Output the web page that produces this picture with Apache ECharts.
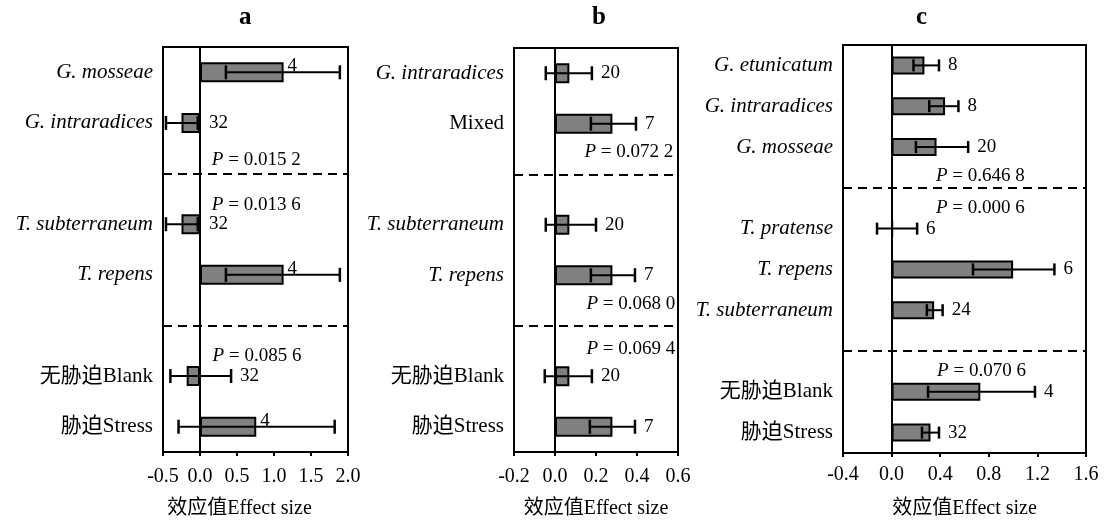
<!DOCTYPE html>
<html>
<head>
<meta charset="utf-8">
<script src="https://cdn.jsdelivr.net/npm/echarts@6/dist/echarts.min.js"></script>
<style>
html, body { margin: 0; padding: 0; background: #fff; }
#main { width: 1107px; height: 520px; }
</style>
</head>
<body>
<div id="main"></div>
<script>
// ---- panel a ----
var catsA = ['G. mosseae', 'G. intraradices', '', 'T. subterraneum', 'T. repens', '', '无胁迫Blank', '胁迫Stress'];
var meanA = [1.13, -0.25, null, -0.25, 1.13, null, -0.18, 0.76];
var lowA  = [0.35, -0.46, null, -0.46, 0.35, null, -0.40, -0.29];
var highA = [1.89, -0.03, null, -0.03, 1.89, null, 0.42, 1.82];
var nA    = [4, 32, null, 32, 4, null, 32, 4];
var dashA = [2, 5];
var pTextA = ['0.015 2', '0.013 6', '0.085 6'];
var pSlotA = [2, 2, 5];
var pSideA = ['above', 'below', 'below'];
var pXA    = [0.76, 0.76, 0.77];

// ---- panel b ----
var catsB = ['G. intraradices', 'Mixed', '', 'T. subterraneum', 'T. repens', '', '无胁迫Blank', '胁迫Stress'];
var meanB = [0.07, 0.28, null, 0.07, 0.28, null, 0.07, 0.28];
var lowB  = [-0.045, 0.175, null, -0.045, 0.175, null, -0.05, 0.17];
var highB = [0.18, 0.395, null, 0.20, 0.39, null, 0.18, 0.39];
var nB    = [20, 7, null, 20, 7, null, 20, 7];
var dashB = [2, 5];
var pTextB = ['0.072 2', '0.068 0', '0.069 4'];
var pSlotB = [2, 5, 5];
var pSideB = ['above', 'above', 'below'];
var pXB    = [0.36, 0.37, 0.37];

// ---- panel c ----
var catsC = ['G. etunicatum', 'G. intraradices', 'G. mosseae', '', 'T. pratense', 'T. repens', 'T. subterraneum', '', '无胁迫Blank', '胁迫Stress'];
var meanC = [0.27, 0.44, 0.37, null, 0.01, 1.0, 0.35, null, 0.73, 0.32];
var lowC  = [0.18, 0.31, 0.20, null, -0.12, 0.67, 0.29, null, 0.30, 0.25];
var highC = [0.39, 0.55, 0.63, null, 0.21, 1.34, 0.42, null, 1.18, 0.39];
var nC    = [8, 8, 20, null, 6, 6, 24, null, 4, 32];
var dashC = [3, 7];
var pTextC = ['0.646 8', '0.000 6', '0.070 6'];
var pSlotC = [3, 3, 7];
var pSideC = ['above', 'below', 'below'];
var pXC    = [0.73, 0.73, 0.74];

var panelLetters = ['a', 'b', 'c'];
var axisName = '效应值Effect size';

var SERIF = "'Liberation Serif', 'Noto Sans CJK SC', serif";

var panels = [
    { cats: catsA, mean: meanA, low: lowA, high: highA, n: nA, dash: dashA,
      pText: pTextA, pSlot: pSlotA, pSide: pSideA, pX: pXA,
      min: -0.5, max: 2.0, step: 0.5,
      grid: { left: 163, right: 759, top: 47, bottom: 68 },
      barW: 20, cap: 7, pAbove: 14, pBelow: 31, labelOnBar: true, nameShift: 32, titleX: 245,
      labelMargin: 15, nameGap: 47 },
    { cats: catsB, mean: meanB, low: lowB, high: highB, n: nB, dash: dashB,
      pText: pTextB, pSlot: pSlotB, pSide: pSideB, pX: pXB,
      min: -0.2, max: 0.6, step: 0.2,
      grid: { left: 514, right: 429, top: 48, bottom: 68 },
      barW: 20, cap: 7, pAbove: 22, pBelow: 23, labelOnBar: false, nameShift: 0, titleX: 598,
      labelMargin: 15, nameGap: 47 },
    { cats: catsC, mean: meanC, low: lowC, high: highC, n: nC, dash: dashC,
      pText: pTextC, pSlot: pSlotC, pSide: pSideC, pX: pXC,
      min: -0.4, max: 1.6, step: 0.4,
      grid: { left: 843, right: 21, top: 45, bottom: 67 },
      barW: 18, cap: 6, pAbove: 12, pBelow: 20, labelOnBar: false, nameShift: 0, titleX: 922,
      labelMargin: 12, nameGap: 46 }
];

var grids = [], xAxes = [], yAxes = [], series = [], graphics = [];

panels.forEach(function (p, k) {
    grids.push({
        left: p.grid.left, right: p.grid.right, top: p.grid.top, bottom: p.grid.bottom,
        outerBoundsMode: 'none',
        show: true, borderColor: '#000', borderWidth: 2, backgroundColor: 'transparent'
    });
    xAxes.push({
        gridIndex: k, type: 'value', min: p.min, max: p.max, interval: p.step,
        splitLine: { show: false },
        axisLine: { show: true, lineStyle: { color: '#000', width: 2 } },
        axisTick: { show: true, length: 4, lineStyle: { color: '#000', width: 2 } },
        axisLabel: {
            color: '#000', fontSize: 20, fontFamily: SERIF, margin: p.labelMargin,
            formatter: function (v) { return v.toFixed(1); }
        },
        name: axisName, nameLocation: 'middle', nameGap: p.nameGap,
        nameTextStyle: { color: '#000', fontSize: 20, fontFamily: SERIF, padding: [0, p.nameShift, 0, 0] }
    });
    yAxes.push({
        gridIndex: k, type: 'category', inverse: true, data: p.cats,
        axisLine: { show: false }, axisTick: { show: false }, splitLine: { show: false },
        axisLabel: {
            margin: 10,
            formatter: function (v) {
                if (!v) return '';
                return /^[A-Z]\. /.test(v) ? '{i|' + v + '}' : '{n|' + v + '}';
            },
            rich: {
                i: { fontSize: 21, fontFamily: SERIF, fontStyle: 'italic', color: '#000' },
                n: { fontSize: 21, fontFamily: SERIF, color: '#000' }
            }
        }
    });

    var markData = [{ xAxis: 0, lineStyle: { type: 'solid', width: 2, color: '#000' } }];
    p.dash.forEach(function (s) {
        markData.push({ yAxis: s, lineStyle: { type: [9, 6], width: 2, color: '#000' } });
    });

    series.push({
        type: 'bar', xAxisIndex: k, yAxisIndex: k,
        data: p.mean.map(function (v) { return v == null ? '-' : v; }),
        barWidth: p.barW,
        itemStyle: { color: '#808080', borderColor: '#000', borderWidth: 2 },
        silent: true,
        markLine: { silent: true, symbol: 'none', label: { show: false }, data: markData }
    });

    var errData = [];
    p.mean.forEach(function (v, i) {
        if (v != null) errData.push([i, p.low[i], p.high[i], p.n[i], v]);
    });

    series.push({
        type: 'custom', xAxisIndex: k, yAxisIndex: k, silent: true, z: 5,
        encode: { x: [1, 2], y: 0 },
        data: errData,
        renderItem: function (params, api) {
            var cat = api.value(0);
            var lo = api.coord([api.value(1), cat]);
            var hi = api.coord([api.value(2), cat]);
            var mean = api.value(4);
            var c = p.cap;
            var onBar = p.labelOnBar && mean > 0.5;
            var anchor = onBar ? api.coord([mean, cat]) : api.coord([Math.max(api.value(2), 0), cat]);
            return {
                type: 'group',
                children: [
                    { type: 'line', shape: { x1: lo[0], y1: lo[1], x2: hi[0], y2: hi[1] },
                      style: { stroke: '#000', lineWidth: 2 } },
                    { type: 'line', shape: { x1: lo[0], y1: lo[1] - c, x2: lo[0], y2: lo[1] + c },
                      style: { stroke: '#000', lineWidth: 2.5 } },
                    { type: 'line', shape: { x1: hi[0], y1: hi[1] - c, x2: hi[0], y2: hi[1] + c },
                      style: { stroke: '#000', lineWidth: 2.5 } },
                    { type: 'text', x: anchor[0] + (onBar ? 4 : 9), y: anchor[1] + (onBar ? -6 : 0),
                      style: { text: String(api.value(3)), fontSize: 19, fontFamily: SERIF, fill: '#000',
                               align: 'left', verticalAlign: 'middle' } }
                ]
            };
        }
    });

    series.push({
        type: 'custom', xAxisIndex: k, yAxisIndex: k, silent: true, z: 5,
        encode: { x: 0, y: 1 },
        data: p.pX.map(function (x, j) { return [x, p.pSlot[j]]; }),
        renderItem: function (params, api) {
            var j = params.dataIndex;
            var pt = api.coord([api.value(0), api.value(1)]);
            var dy = p.pSide[j] === 'above' ? -p.pAbove : p.pBelow;
            return {
                type: 'text', x: pt[0], y: pt[1] + dy,
                style: {
                    text: '{i|P}{n| = ' + p.pText[j] + '}',
                    align: 'center', verticalAlign: 'middle',
                    rich: {
                        i: { fontSize: 19, fontFamily: SERIF, fontStyle: 'italic', fill: '#000' },
                        n: { fontSize: 19, fontFamily: SERIF, fill: '#000' }
                    }
                }
            };
        }
    });

    graphics.push({
        type: 'text', left: p.titleX - 6, top: 5,
        style: { text: panelLetters[k], fontSize: 25, fontWeight: 'bold', fontFamily: SERIF, fill: '#000' }
    });
});

var myChart = echarts.init(document.getElementById('main'));
var option = {
    animation: false,
    backgroundColor: '#fff',
    grid: grids,
    xAxis: xAxes,
    yAxis: yAxes,
    series: series,
    graphic: graphics
};
myChart.setOption(option);
</script>
</body>
</html>
